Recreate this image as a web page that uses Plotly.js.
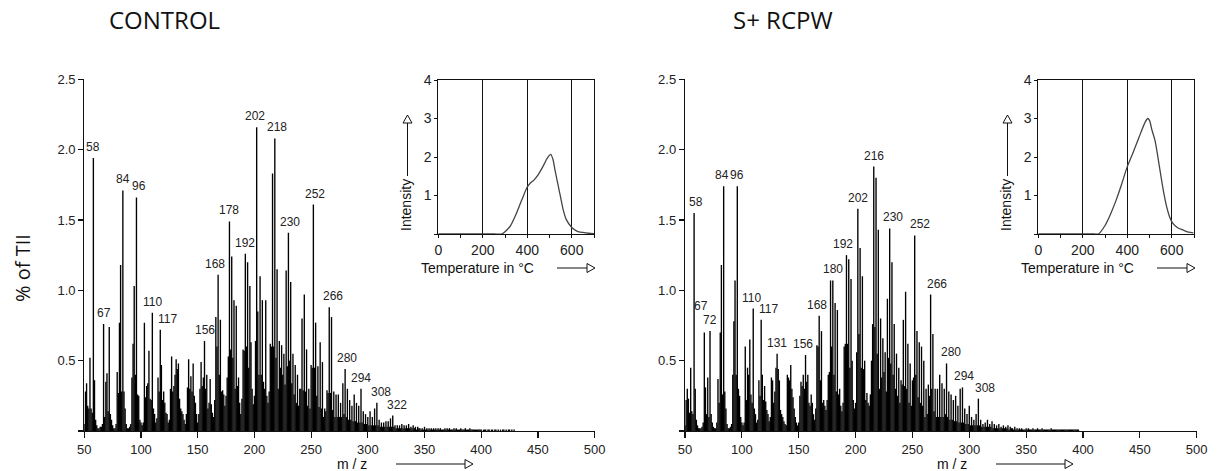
<!DOCTYPE html>
<html>
<head>
<meta charset="utf-8">
<script src="https://cdn.plot.ly/plotly-3.0.1.min.js"></script>
<style>html,body{margin:0;padding:0;background:#fff;}#chart{width:1220px;height:471px;}</style>
</head>
<body>
<div id="chart"></div>
<script>
// ---------------- DATA ----------------
const mzStartControl = 50;
const controlIntensity = [
0.05,0.28,0.34,0.18,0.16,0.52,0.16,0.13,1.94,0.36,
0.08,0.04,0.02,0.02,0.03,0.03,0.05,0.76,0.10,0.35,
0.41,0.14,0.74,0.12,0.08,0.04,0.02,0.02,0.05,0.42,
0.27,0.77,1.18,0.28,1.71,0.28,0.16,0.05,0.02,0.02,
0.03,0.05,0.38,0.62,1.03,0.40,1.66,0.26,0.25,0.08,
0.06,0.04,0.06,0.77,0.24,0.32,0.34,0.57,0.23,0.22,
0.84,0.16,0.12,0.06,0.09,0.38,0.28,0.72,0.47,0.22,
0.28,0.20,0.13,0.12,0.06,0.08,0.30,0.53,0.28,0.32,
0.40,0.51,0.44,0.48,0.23,0.16,0.14,0.12,0.08,0.05,
0.12,0.31,0.51,0.30,0.39,0.28,0.48,0.25,0.20,0.12,
0.06,0.12,0.30,0.49,0.32,0.38,0.64,0.30,0.40,0.16,
0.20,0.37,0.19,0.13,0.10,0.22,0.81,0.60,1.11,0.40,
0.79,0.28,0.29,0.26,0.18,0.25,0.38,0.53,1.49,0.58,
1.24,0.52,0.93,0.30,0.89,0.32,0.38,0.20,0.12,0.23,
0.58,0.57,1.26,0.60,1.20,0.45,1.03,0.63,0.30,0.19,
0.25,0.64,2.16,0.85,0.40,1.10,0.40,0.93,0.35,0.30,
0.93,0.25,0.20,0.28,0.62,0.60,1.83,0.60,2.08,0.52,
1.15,0.30,0.64,0.45,0.61,0.40,0.55,0.33,1.14,0.46,
1.41,0.50,1.06,0.34,0.55,0.26,0.47,0.20,0.40,0.18,
0.30,0.30,0.80,0.29,0.97,0.28,0.58,0.18,0.30,0.16,
0.47,0.45,1.61,0.45,0.77,0.25,0.46,0.17,0.63,0.16,
0.49,0.10,0.16,0.14,0.29,0.27,0.88,0.27,0.81,0.15,
0.28,0.10,0.26,0.10,0.26,0.10,0.20,0.10,0.34,0.12,
0.44,0.10,0.30,0.08,0.22,0.08,0.18,0.07,0.26,0.07,
0.20,0.06,0.18,0.06,0.30,0.06,0.14,0.05,0.12,0.05,
0.10,0.04,0.14,0.04,0.10,0.04,0.16,0.04,0.20,0.04,
0.08,0.03,0.06,0.03,0.06,0.03,0.07,0.03,0.07,0.03,
0.09,0.03,0.11,0.03,0.04,0.02,0.04,0.02,0.04,0.02,
0.05,0.02,0.04,0.02,0.04,0.02,0.05,0.02,0.03,0.02,
0.04,0.02,0.03,0.01,0.03,0.02,0.02,0.01,0.02,0.01,
0.03,0.01,0.02,0.01,0.02,0.01,0.02,0.01,0.02,0.01,
0.02,0.01,0.02,0.01,0.02,0.01,0.01,0.01,0.02,0.01,
0.02,0.01,0.02,0.01,0.01,0.01,0.02,0.01,0.02,0.01,
0.01,0.01,0.02,0.01,0.01,0.01,0.02,0.01,0.01,0.01,
0.02,0.01,0.01,0.01,0.01,0.01,0.01,0.01,0.01,0.01,
0.01,0,0.01,0.01,0.01,0,0.01,0.01,0,0.01,
0.01,0,0.01,0.01,0,0.01,0,0.01,0,0.01,
0.01,0,0.01,0,0.01,0.01,0,0.01,0,0.01
];

const mzStartRcpw = 50;
const rcpwIntensity = [
0.04,0.22,0.30,0.23,0.13,0.45,0.14,0.12,1.55,0.30,
0.08,0.04,0.02,0.02,0.02,0.03,0.06,0.70,0.31,0.12,
0.38,0.10,0.71,0.12,0.06,0.03,0.02,0.02,0.06,0.37,
0.20,0.70,1.18,0.26,1.74,0.28,0.16,0.05,0.02,0.02,
0.03,0.05,0.40,0.78,1.07,0.40,1.74,0.30,0.25,0.10,
0.06,0.04,0.06,0.60,0.22,0.45,0.40,0.65,0.26,0.20,
0.87,0.16,0.12,0.06,0.08,0.36,0.25,0.79,0.40,0.22,
0.32,0.21,0.15,0.12,0.07,0.10,0.38,0.36,0.20,0.28,
0.45,0.55,0.44,0.36,0.15,0.12,0.10,0.07,0.05,0.04,
0.40,0.38,0.36,0.47,0.30,0.24,0.16,0.10,0.06,0.04,
0.06,0.25,0.35,0.32,0.40,0.30,0.54,0.35,0.40,0.20,
0.18,0.26,0.20,0.12,0.08,0.16,0.61,0.60,0.82,0.36,
0.71,0.20,0.22,0.18,0.15,0.22,0.40,0.42,1.07,0.60,
1.07,0.40,0.91,0.28,0.86,0.26,0.30,0.18,0.14,0.20,
0.60,0.62,1.25,0.62,1.22,0.45,1.08,0.50,0.22,0.16,
0.20,0.56,1.58,0.69,1.30,0.45,1.10,0.44,0.50,0.22,
0.27,0.20,0.18,0.26,0.50,0.76,1.88,0.74,1.80,0.55,
1.43,0.30,0.80,0.38,0.66,0.42,0.56,0.28,0.94,0.52,
1.44,0.48,1.20,0.40,0.76,0.30,0.55,0.25,0.45,0.20,
0.36,0.33,0.79,0.32,0.99,0.30,0.62,0.20,0.48,0.18,
0.36,0.38,1.39,0.40,0.71,0.24,0.63,0.20,0.60,0.18,
0.50,0.10,0.30,0.12,0.33,0.25,0.97,0.30,0.69,0.14,
0.30,0.10,0.30,0.10,0.40,0.10,0.34,0.10,0.30,0.12,
0.48,0.10,0.28,0.08,0.26,0.08,0.22,0.07,0.25,0.07,
0.18,0.06,0.30,0.06,0.31,0.06,0.16,0.05,0.12,0.05,
0.18,0.04,0.10,0.04,0.08,0.04,0.12,0.04,0.23,0.04,
0.08,0.03,0.05,0.03,0.06,0.03,0.08,0.03,0.05,0.03,
0.07,0.02,0.05,0.02,0.04,0.02,0.05,0.02,0.03,0.02,
0.04,0.02,0.03,0.02,0.04,0.01,0.03,0.02,0.02,0.01,
0.03,0.01,0.02,0.01,0.02,0.01,0.02,0.01,0.01,0.01,
0.02,0.01,0.02,0.01,0.01,0.01,0.02,0.01,0.01,0.01,
0.02,0.01,0.01,0.01,0.02,0.01,0.01,0.01,0.01,0.01,
0.01,0.01,0.02,0.01,0.01,0.01,0.01,0.01,0.01,0.01,
0.01,0.01,0.01,0.01,0.01,0.01,0.01,0.01,0.01,0.01,
0.01,0.01,0.01,0.01,0.01,0.01,0.01
];

const controlPeakLabels = [58,67,84,96,110,117,156,168,178,192,202,218,230,252,266,280,294,308,322];
const rcpwPeakLabels = [58,67,72,84,96,110,117,131,156,168,180,192,202,216,230,252,266,280,294,308];

const controlTemp = [0,50,100,150,200,250,285,300,325,350,375,400,415,430,450,472,490,505,515,525,540,550,562,575,600,625,650,675,700];
const controlInset = [0,0,0,0,0,0,0,0.06,0.22,0.52,0.88,1.22,1.33,1.40,1.55,1.77,1.97,2.07,1.95,1.65,1.23,0.95,0.62,0.38,0.17,0.07,0.04,0.02,0.01];
const rcpwTemp = [0,50,100,150,200,250,270,300,325,350,375,400,425,442,460,480,492,500,510,525,547,560,577,590,604,625,652,675,697];
const rcpwInset = [0,0,0,0,0,0,0,0.22,0.52,0.88,1.30,1.75,2.10,2.35,2.62,2.90,3.00,2.95,2.72,2.42,1.66,1.20,0.71,0.45,0.28,0.17,0.10,0.05,0.03];

const mzTicks = [50,100,150,200,250,300,350,400,450,500];
const yTicks = [0,0.5,1.0,1.5,2.0,2.5];
const yTickText = ['','0.5','1.0','1.5','2.0','2.5'];
const tempTicks = [0,200,400,600];
const insetYTicks = [0,1,2,3,4];
const insetYText = ['','1','2','3','4'];

// ---------------- STYLE / LAYOUT ----------------
const W = 1220, H = 471;
const px = x => x / W;
const py = y => 1 - y / H;
const TXT = '#222';
const SANS = 'Liberation Sans, Arial, sans-serif';

function mzArray(start, arr){ return arr.map((_, i) => start + i); }

const ctrlX = mzArray(mzStartControl, controlIntensity);
const rcpwX = mzArray(mzStartRcpw, rcpwIntensity);

const barStyle = {color: '#000', line: {width: 0}};
const traces = [
  {type: 'bar', x: ctrlX, y: controlIntensity, width: 1.2, marker: barStyle, xaxis: 'x', yaxis: 'y', hoverinfo: 'x+y'},
  {type: 'bar', x: rcpwX, y: rcpwIntensity, width: 1.2, marker: barStyle, xaxis: 'x2', yaxis: 'y2', hoverinfo: 'x+y'},
  {type: 'scatter', mode: 'lines', x: controlTemp, y: controlInset, line: {color: '#444', width: 1.3, shape: 'spline', smoothing: 0.8}, xaxis: 'x3', yaxis: 'y3'},
  {type: 'scatter', mode: 'lines', x: rcpwTemp, y: rcpwInset, line: {color: '#444', width: 1.3, shape: 'spline', smoothing: 0.8}, xaxis: 'x4', yaxis: 'y4'}
];

const mainY = [py(431), py(79.3)];
const insetY = [py(234), py(80)];

function mainX(domain, anchor){
  return {domain: domain, anchor: anchor, range: [50, 500], tickvals: mzTicks, ticks: 'outside', ticklen: 6, tickwidth: 1.2,
    tickcolor: '#111', showline: true, linecolor: '#111', linewidth: 1.2, showgrid: false, zeroline: false,
    tickfont: {family: SANS, size: 13, color: TXT}, fixedrange: true};
}
function mainYax(anchor){
  return {domain: mainY, anchor: anchor, range: [0, 2.5], tickvals: yTicks, ticktext: yTickText, ticks: 'outside', ticklen: 5,
    tickwidth: 1.2, tickcolor: '#111', showline: true, linecolor: '#111', linewidth: 1.2, showgrid: false, zeroline: false,
    tickfont: {family: SANS, size: 13, color: TXT}, fixedrange: true};
}
function insetX(domain, anchor){
  return {domain: domain, anchor: anchor, range: [0, 700], tickvals: tempTicks, ticks: 'outside', ticklen: 3, tickcolor: '#111',
    showline: true, mirror: true, linecolor: '#111', linewidth: 1, showgrid: true, gridcolor: '#111', gridwidth: 1, zeroline: false,
    minor: {dtick: 100, tick0: 0, ticks: 'outside', ticklen: 3, tickcolor: '#111', showgrid: false},
    tickfont: {family: SANS, size: 14, color: TXT}, fixedrange: true};
}
function insetYax(domain, anchor){
  return {domain: domain, anchor: anchor, range: [0, 4], tickvals: insetYTicks, ticktext: insetYText, ticks: 'outside', ticklen: 3,
    tickcolor: '#111', showline: true, mirror: true, linecolor: '#111', linewidth: 1, showgrid: false, zeroline: false,
    tickfont: {family: SANS, size: 14, color: TXT}, fixedrange: true};
}

const annotations = [];
const shapes = [];

function peakLabels(xs, ys, labels, xref, yref, shifts){
  labels.forEach(m => {
    const i = xs.indexOf(m);
    const s = shifts[m] || [0, 0];
    annotations.push({x: m, y: ys[i], xref: xref, yref: yref, text: String(m), showarrow: false,
      xanchor: 'center', yanchor: 'bottom', xshift: s[0], yshift: 2 + s[1],
      font: {family: SANS, size: 12, color: TXT}});
  });
}
peakLabels(ctrlX, controlIntensity, controlPeakLabels, 'x', 'y',
  {96: [3, 0], 117: [7, 0], 168: [-3, 0], 202: [-2, 0], 218: [2, 0], 230: [2, 0], 252: [2, 0], 266: [4, 0], 280: [2, 0], 308: [4, 0], 322: [4, 0]});
peakLabels(rcpwX, rcpwIntensity, rcpwPeakLabels, 'x2', 'y2',
  {58: [2, 0], 67: [-3, 16], 84: [-2, 0], 110: [-2, 0], 117: [7, 0], 156: [-3, 0], 168: [-2, 0], 180: [0, 0], 192: [-3, 0], 230: [3, 0], 252: [5, 0], 266: [6, 0], 280: [4, 0], 294: [2, 0], 308: [7, 0]});

function txt(x, y, text, size, family, angle){
  annotations.push({x: px(x), y: py(y), xref: 'paper', yref: 'paper', text: text, showarrow: false,
    xanchor: 'center', yanchor: 'middle', textangle: angle || 0, font: {family: family || SANS, size: size, color: '#111'}});
}
function hArrow(x0, x1, y){
  shapes.push({type: 'line', xref: 'paper', yref: 'paper', x0: px(x0), x1: px(x1 - 8), y0: py(y), y1: py(y), line: {color: '#111', width: 1}});
  shapes.push({type: 'path', xref: 'paper', yref: 'paper',
    path: `M${px(x1 - 8)},${py(y - 4.5)} L${px(x1)},${py(y)} L${px(x1 - 8)},${py(y + 4.5)} Z`,
    fillcolor: '#fff', line: {color: '#111', width: 1}});
}
function vArrow(x, y0, y1){
  shapes.push({type: 'line', xref: 'paper', yref: 'paper', x0: px(x), x1: px(x), y0: py(y0), y1: py(y1 + 8), line: {color: '#111', width: 1}});
  shapes.push({type: 'path', xref: 'paper', yref: 'paper',
    path: `M${px(x - 4.5)},${py(y1 + 8)} L${px(x)},${py(y1)} L${px(x + 4.5)},${py(y1 + 8)} Z`,
    fillcolor: '#fff', line: {color: '#111', width: 1}});
}

// titles
txt(164, 20, 'CONTROL', 24, 'Open Sans, sans-serif');
txt(783, 20, 'S+ RCPW', 24, 'Open Sans, sans-serif');
txt(22, 268, '% of TII', 20, 'Open Sans, sans-serif', -90);
// axis labels, arrows
[0, 600].forEach(d => {
  txt(352 + d, 464, 'm / z', 14);
  hArrow(396 + d, 473 + d, 464);
  txt(406 + d, 205, 'Intensity', 14, SANS, -90);
  vArrow(407.5 + d, 176, 115);
  txt(477 + d, 268, 'Temperature in °C', 14);
  hArrow(557 + d, 595 + d, 268);
});

const layout = {
  width: W, height: H, margin: {l: 0, r: 0, t: 0, b: 0},
  paper_bgcolor: '#fff', plot_bgcolor: 'rgba(0,0,0,0)', showlegend: false, bargap: 0.2,
  xaxis: mainX([px(84.3), px(594.6)], 'y'),
  yaxis: mainYax('x'),
  xaxis2: mainX([px(685), px(1196.7)], 'y2'),
  yaxis2: mainYax('x2'),
  xaxis3: insetX([px(438.3), px(594)], 'y3'),
  yaxis3: insetYax(insetY, 'x3'),
  xaxis4: insetX([px(1038.3), px(1194)], 'y4'),
  yaxis4: insetYax(insetY, 'x4'),
  annotations: annotations,
  shapes: shapes
};

Plotly.newPlot('chart', traces, layout, {displayModeBar: false, staticPlot: true});
</script>
</body>
</html>
